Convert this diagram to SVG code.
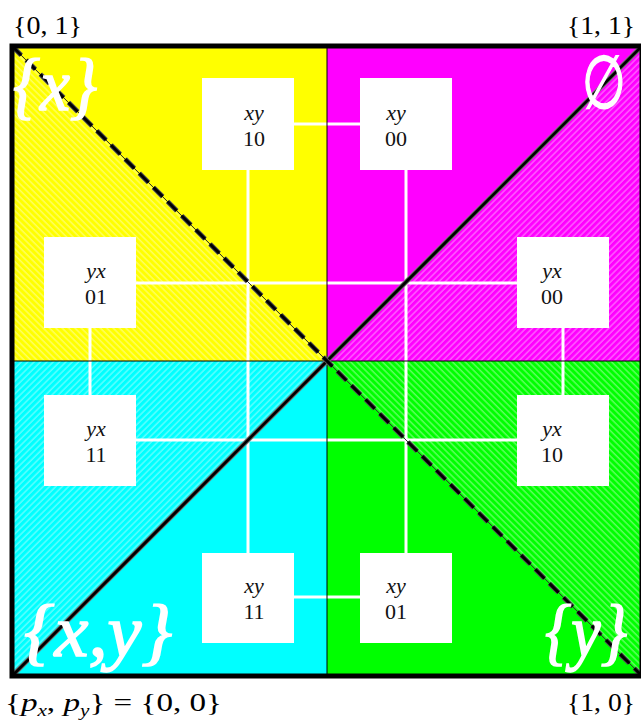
<svg xmlns="http://www.w3.org/2000/svg" width="641" height="721" viewBox="0 0 641 721">
<style>
.lbl{font-family:"Liberation Serif","Times New Roman",serif;font-size:25px;fill:#000}
.big{font-family:"Liberation Serif","Times New Roman",serif;font-size:74px;fill:#fff;stroke:#fff;stroke-width:1.5}
.it{font-style:italic}
.box{fill:#fff}
.bt{font-family:"Liberation Serif","Times New Roman",serif;font-size:22px;fill:#111;text-anchor:middle}
.con{stroke:#fff;stroke-width:3;fill:none}
.div{stroke:#000;stroke-width:1;fill:none}
</style>
<defs>
<pattern id="hb" patternUnits="userSpaceOnUse" width="4.5" height="10" patternTransform="rotate(-45)">
<line x1="1" y1="0" x2="1" y2="10" stroke="#fff" stroke-width="1" stroke-opacity="0.55"/>
</pattern>
<pattern id="hf" patternUnits="userSpaceOnUse" width="4.5" height="10" patternTransform="rotate(45)">
<line x1="1" y1="0" x2="1" y2="10" stroke="#fff" stroke-width="1" stroke-opacity="0.55"/>
</pattern>
</defs>
<rect width="641" height="721" fill="#fff"/>
<g id="quadrants">
<rect x="12" y="46" width="315" height="315" fill="#ffff00"/>
<rect x="327" y="46" width="315" height="315" fill="#ff00ff"/>
<rect x="12" y="361" width="315" height="315" fill="#00ffff"/>
<rect x="327" y="361" width="315" height="315" fill="#00ff00"/>
<polygon points="12,46 12,361 327,361" fill="url(#hb)"/>
<polygon points="642,46 642,361 327,361" fill="url(#hf)"/>
<polygon points="12,361 327,361 12,676" fill="url(#hf)"/>
<polygon points="327,361 642,361 642,676" fill="url(#hb)"/>
</g>
<g id="connectors">
<line class="con" x1="294" y1="124" x2="360" y2="124"/>
<line class="con" x1="248" y1="170" x2="248" y2="553"/>
<line class="con" x1="406" y1="170" x2="406" y2="553"/>
<line class="con" x1="136" y1="283" x2="517" y2="283"/>
<line class="con" x1="136" y1="440" x2="517" y2="440"/>
<line class="con" x1="90" y1="328" x2="90" y2="395"/>
<line class="con" x1="563" y1="328" x2="563" y2="395"/>
<line class="con" x1="294" y1="597" x2="360" y2="597"/>
</g>
<g id="axes">
<line class="div" x1="327" y1="46" x2="327" y2="676"/>
<line class="div" x1="12" y1="361" x2="642" y2="361"/>
<line x1="12" y1="676" x2="642" y2="46" stroke="#777" stroke-width="5"/>
<line x1="12" y1="676" x2="642" y2="46" stroke="#000" stroke-width="3"/>
<line x1="12" y1="46" x2="642" y2="676" stroke="#333" stroke-width="1"/>
<line x1="12" y1="46" x2="642" y2="676" stroke="#555" stroke-width="5" stroke-dasharray="13 7"/>
<line x1="12" y1="46" x2="642" y2="676" stroke="#000" stroke-width="3" stroke-dasharray="13 7"/>
<rect x="12" y="46" width="630" height="630" fill="none" stroke="#000" stroke-width="5"/>
</g>
<g id="xy10"><rect class="box" x="202" y="78" width="92" height="92"/><text class="bt it" x="254" y="120">xy</text><text class="bt" x="254" y="146">10</text></g>
<g id="xy00"><rect class="box" x="360" y="78" width="92" height="92"/><text class="bt it" x="396" y="120">xy</text><text class="bt" x="396" y="146">00</text></g>
<g id="yx01"><rect class="box" x="44" y="237" width="92" height="91"/><text class="bt it" x="96" y="278">yx</text><text class="bt" x="96" y="304">01</text></g>
<g id="yx00"><rect class="box" x="517" y="237" width="92" height="91"/><text class="bt it" x="552" y="278">yx</text><text class="bt" x="552" y="304">00</text></g>
<g id="yx11"><rect class="box" x="44" y="395" width="92" height="91"/><text class="bt it" x="96" y="436">yx</text><text class="bt" x="96" y="462">11</text></g>
<g id="yx10"><rect class="box" x="517" y="395" width="92" height="91"/><text class="bt it" x="552" y="436">yx</text><text class="bt" x="552" y="462">10</text></g>
<g id="xy11"><rect class="box" x="202" y="553" width="92" height="90"/><text class="bt it" x="254" y="593">xy</text><text class="bt" x="254" y="619">11</text></g>
<g id="xy01"><rect class="box" x="360" y="553" width="92" height="90"/><text class="bt it" x="396" y="593">xy</text><text class="bt" x="396" y="619">01</text></g>
<g id="region-labels">
<text class="big it" x="13" y="110" textLength="84" lengthAdjust="spacingAndGlyphs">{x}</text>
<text class="big" transform="translate(604,108) scale(0.68,1)" x="0" y="0" font-size="62" text-anchor="middle">∅</text>
<text class="big it" x="24" y="656" textLength="148" lengthAdjust="spacingAndGlyphs">{x,y}</text>
<text class="big it" x="545" y="656" textLength="82" lengthAdjust="spacingAndGlyphs">{y}</text>
</g>
<g id="corner-labels">
<text class="lbl" x="13" y="34" textLength="69" lengthAdjust="spacingAndGlyphs">{0, 1}</text>
<text class="lbl" x="567" y="34" textLength="68" lengthAdjust="spacingAndGlyphs">{1, 1}</text>
<text class="lbl" x="567" y="711" textLength="68" lengthAdjust="spacingAndGlyphs">{1, 0}</text>
<text class="lbl" x="5" y="711" textLength="217" lengthAdjust="spacingAndGlyphs">{<tspan class="it">p</tspan><tspan font-size="16" dy="5" class="it">x</tspan><tspan dy="-5">, </tspan><tspan class="it">p</tspan><tspan font-size="16" dy="5" class="it">y</tspan><tspan dy="-5">} = {0, 0}</tspan></text>
</g>
</svg>
